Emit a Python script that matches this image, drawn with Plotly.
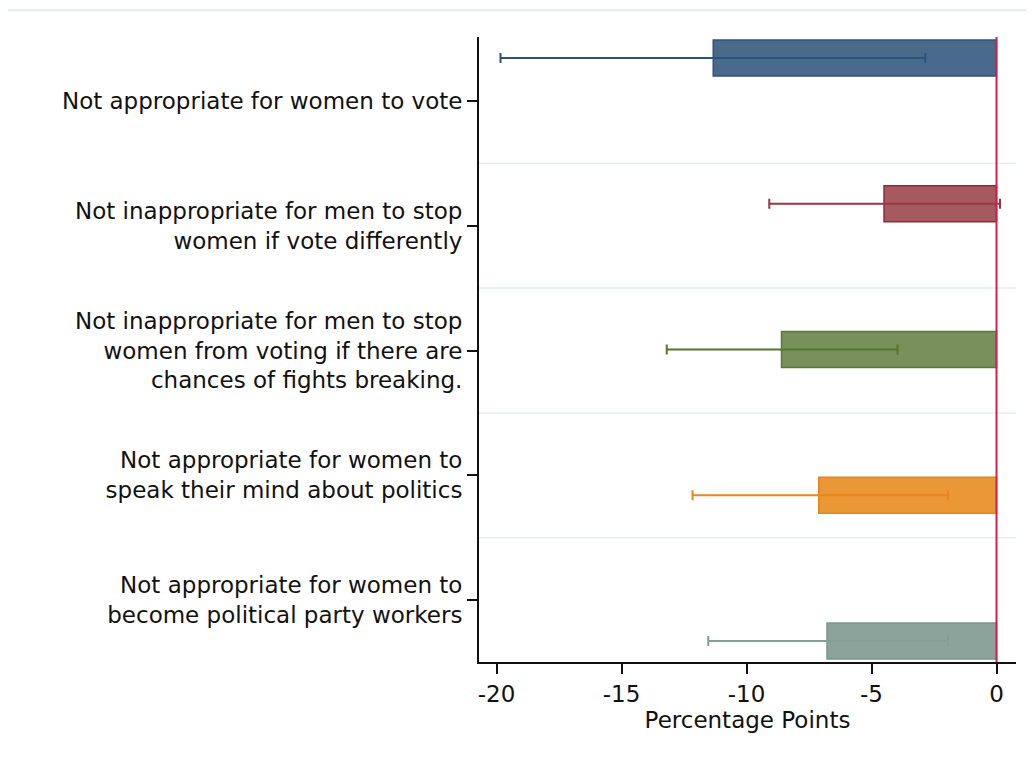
import plotly.graph_objects as go

# ---- data ----
categories = [
    "Not appropriate for women to vote",
    "Not inappropriate for men to stop<br>women if vote differently",
    "Not inappropriate for men to stop<br>women from voting if there are<br>chances of fights breaking.",
    "Not appropriate for women to<br>speak their mind about politics",
    "Not appropriate for women to<br>become political party workers",
]
estimates = [-11.33, -4.50, -8.60, -7.11, -6.78]
ci_low = [-19.84, -9.09, -13.19, -12.16, -11.53]
ci_high = [-2.85, 0.14, -3.96, -1.94, -1.94]
x_ticks = [-20, -15, -10, -5, 0]
x_tick_labels = ["-20", "-15", "-10", "-5", "0"]
x_title = "Percentage Points"

# ---- styles ----
fill_colors = ["#4a6a8c", "#a55a60", "#78905a", "#ea9736", "#8ba39a"]
line_colors = ["#2f527a", "#8f2b3a", "#587738", "#e5861c", "#7a968c"]
err_colors = ["#2b527a", "#9a3644", "#55762f", "#e8871e", "#84a096"]
FONT = "DejaVu Sans"
INK = "#111111"

fig = go.Figure()

# invisible trace to anchor the label axis
fig.add_trace(go.Scatter(
    x=[0] * len(categories), y=categories, mode="markers",
    marker=dict(opacity=0), hoverinfo="skip", showlegend=False, yaxis="y"))

for i, cat in enumerate(categories):
    fig.add_trace(go.Bar(
        x=[estimates[i]], y=[cat], orientation="h", yaxis="y2",
        width=0.247,
        marker=dict(color=fill_colors[i], line=dict(color=line_colors[i], width=1.5)),
        error_x=dict(type="data", symmetric=False,
                     array=[ci_high[i] - estimates[i]],
                     arrayminus=[estimates[i] - ci_low[i]],
                     color=err_colors[i], thickness=2, width=5),
        showlegend=False))

shapes = []
# horizontal separators between categories
for k in range(len(categories) - 1):
    shapes.append(dict(type="line", xref="paper", yref="y", x0=0, x1=1,
                       y0=k + 0.5, y1=k + 0.5,
                       line=dict(color="#e6eef1", width=1.5), layer="below"))
# reference line at zero
shapes.append(dict(type="line", xref="x", yref="paper", x0=0, x1=0, y0=0, y1=1,
                   line=dict(color="#d21f4c", width=2), layer="above"))
# thin top frame line
shapes.append(dict(type="line", xref="paper", yref="paper", x0=-0.877, x1=1.04,
                   y0=1.043, y1=1.043, line=dict(color="#e3eaee", width=2)))

fig.update_layout(
    width=1026, height=749,
    margin=dict(l=471, r=18, t=29, b=95),
    paper_bgcolor="white", plot_bgcolor="white",
    barmode="overlay",
    showlegend=False,
    font=dict(family=FONT, size=23, color=INK),
    shapes=shapes,
    xaxis=dict(range=[-20.7, 0.78], tickvals=x_ticks, ticktext=x_tick_labels,
               showgrid=False, zeroline=False, showline=True,
               linecolor=INK, linewidth=2,
               ticks="outside", ticklen=10, tickwidth=1.5, tickcolor=INK,
               tickfont=dict(family=FONT, size=23, color=INK),
               title=dict(text=x_title, standoff=0,
                          font=dict(family=FONT, size=23, color=INK))),
    yaxis=dict(type="category", categoryarray=categories,
               range=[4.496, -0.512],
               showgrid=False, zeroline=False, showline=True,
               linecolor=INK, linewidth=2,
               ticks="outside", ticklen=10, tickwidth=1.5, tickcolor=INK,
               tickfont=dict(family=FONT, size=23, color=INK)),
    yaxis2=dict(type="category", categoryarray=categories, overlaying="y",
                range=[4.144, -0.144], visible=False, showgrid=False),
)

fig.write_html("out.html")
